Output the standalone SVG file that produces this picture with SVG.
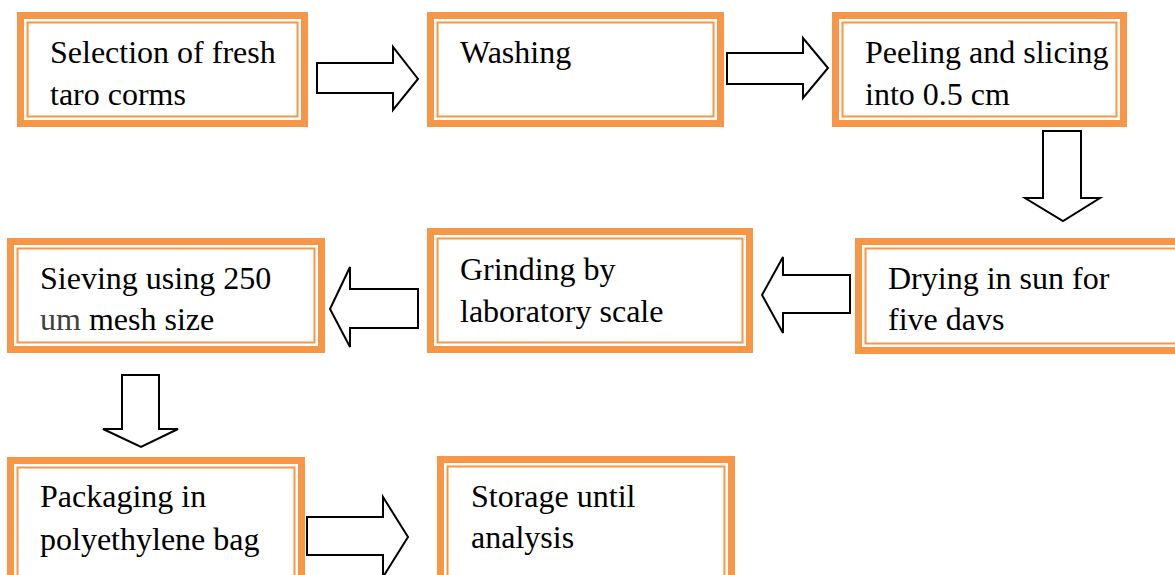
<svg xmlns="http://www.w3.org/2000/svg" width="1175" height="575" viewBox="0 0 1175 575">
<style>
.outer{fill:#ffffff;stroke:#F79646;stroke-width:7}
.inner{fill:none;stroke:#F79646;stroke-width:2}
text{font-family:'Liberation Serif','Times New Roman','DejaVu Serif',serif;font-size:32px;fill:#000}
.arr{fill:#ffffff;stroke:#000;stroke-width:2;stroke-linejoin:miter}
</style>
<rect width="1175" height="575" fill="#fff"/>
<g id="n1">
<rect class="outer" x="20.5" y="15.5" width="284" height="108"/>
<rect class="inner" x="27.5" y="22.5" width="270" height="94"/>
<text x="50" y="63">Selection of fresh</text>
<text x="50" y="105">taro corms</text>
</g>
<g id="n2">
<rect class="outer" x="430.5" y="15.5" width="290" height="108"/>
<rect class="inner" x="437.5" y="22.5" width="276" height="94"/>
<text x="460" y="63">Washing</text>
</g>
<g id="n3">
<rect class="outer" x="835.5" y="15.5" width="288" height="108"/>
<rect class="inner" x="842.5" y="22.5" width="274" height="94"/>
<text x="865" y="63">Peeling and slicing</text>
<text x="865" y="105">into 0.5 cm</text>
</g>
<g id="n4">
<rect class="outer" x="858.5" y="241.5" width="330" height="109"/>
<rect class="inner" x="865.5" y="248.5" width="330" height="95"/>
<text x="888" y="289">Drying in sun for</text>
<text x="888" y="330">five davs</text>
</g>
<g id="n5">
<rect class="outer" x="430.5" y="231.5" width="319" height="118"/>
<rect class="inner" x="437.5" y="238.5" width="305" height="104"/>
<text x="460" y="280">Grinding by</text>
<text x="460" y="322">laboratory scale</text>
</g>
<g id="n6">
<rect class="outer" x="10.5" y="241.5" width="311" height="108"/>
<rect class="inner" x="17.5" y="248.5" width="297" height="94"/>
<text x="40" y="289">Sieving using 250</text>
<text x="40" y="330"><tspan fill="#404040">um</tspan> mesh size</text>
</g>
<g id="n7">
<rect class="outer" x="10.5" y="460.5" width="291" height="130"/>
<rect class="inner" x="17.5" y="467.5" width="277" height="116"/>
<text x="40" y="507">Packaging in</text>
<text x="40" y="550">polyethylene bag</text>
</g>
<g id="n8">
<rect class="outer" x="440.5" y="459.5" width="291" height="130"/>
<rect class="inner" x="447.5" y="466.5" width="277" height="116"/>
<text x="471" y="507">Storage until</text>
<text x="471" y="548">analysis</text>
</g>
<g id="connectors">
<polygon class="arr" points="317,63 393,63 393,47 418,79 393,110 393,93 317,93"/>
<polygon class="arr" points="727,53 803,53 803,38 828,68 803,98 803,84 727,84"/>
<polygon class="arr" points="1043,131 1081,131 1081,198 1100,198 1063,221 1025,198 1043,198"/>
<polygon class="arr" points="850,275 783,275 783,257 762,295 783,333 783,313 850,313"/>
<polygon class="arr" points="418,289 350,289 350,267 330,309 350,347 350,328 418,328"/>
<polygon class="arr" points="122,375 159,375 159,429 178,429 141,447 103,429 122,429"/>
<polygon class="arr" points="307,517 383,517 383,497 408,537 383,577 383,555 307,555"/>
</g>
</svg>
